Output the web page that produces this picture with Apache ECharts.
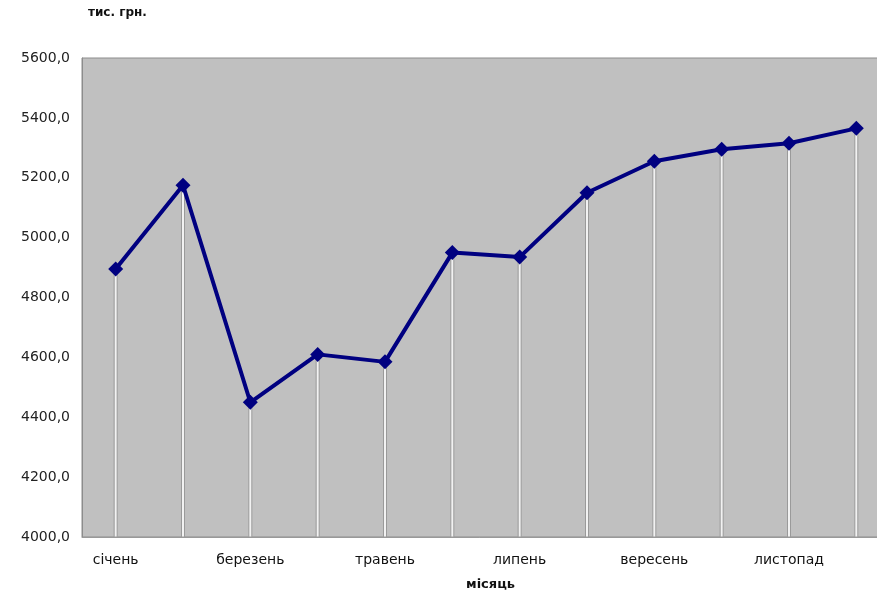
<!DOCTYPE html>
<html>
<head>
<meta charset="utf-8">
<script src="https://cdn.jsdelivr.net/npm/echarts@6/dist/echarts.min.js"></script>
<style>
html,body{margin:0;padding:0;background:#fff;}
#c{width:877px;height:595px;}
</style>
</head>
<body>
<div id="c"></div>
<script>
var months = ['січень','лютий','березень','квітень','травень','червень','липень','серпень','вересень','жовтень','листопад','грудень'];
var values = [4895, 5175, 4450, 4610, 4585, 4950, 4935, 5150, 5255, 5295, 5315, 5365];
var yMin = 4000, yMax = 5600, yStep = 200;
var yAxisTitle = 'тис. грн.';
var xAxisTitle = 'місяць';

var FONT = '"DejaVu Sans", Arial, sans-serif';
var chart = echarts.init(document.getElementById('c'), null, {renderer:'canvas'});
chart.setOption({
  animation: false,
  backgroundColor: '#ffffff',
  grid: {
    left: 82, top: 58, height: 479, width: 808,
    outerBoundsMode: 'none',
    show: true, backgroundColor: '#c0c0c0', borderColor: '#8c8c8c', borderWidth: 1,
    containLabel: false
  },
  graphic: [
    {type:'text', left: 88, top: 7, style:{text: yAxisTitle, font:'bold 12px ' + FONT, fill:'#111'}},
    {type:'text', left: 466, top: 578, style:{text: xAxisTitle, font:'bold 13px ' + FONT, fill:'#111'}}
  ],
  xAxis: {
    type: 'category',
    data: months,
    boundaryGap: true,
    axisLine: {show: true, lineStyle: {color: '#999999', width: 1}},
    axisTick: {show: false},
    axisLabel: {interval: 1, color: '#111', fontSize: 14, fontFamily: FONT, margin: 16},
    splitLine: {show: false}
  },
  yAxis: {
    type: 'value',
    min: yMin, max: yMax, interval: yStep,
    axisLine: {show: true, lineStyle: {color: '#8c8c8c', width: 1}},
    axisTick: {show: false},
    splitLine: {show: false},
    axisLabel: {
      color: '#222', fontSize: 14, fontFamily: FONT, margin: 12,
      formatter: function(v){ return v.toFixed(1).replace('.', ','); }
    }
  },
  series: [
    {
      type: 'bar',
      data: values,
      barWidth: 4,
      itemStyle: {color: '#f2f2f2', borderColor: '#9a9a9a', borderWidth: 1},
      z: 1,
      silent: true
    },
    {
      type: 'line',
      data: values,
      symbol: 'diamond',
      symbolSize: 15,
      lineStyle: {color: '#000080', width: 4},
      itemStyle: {color: '#000080'},
      z: 5
    }
  ]
});
</script>
</body>
</html>
